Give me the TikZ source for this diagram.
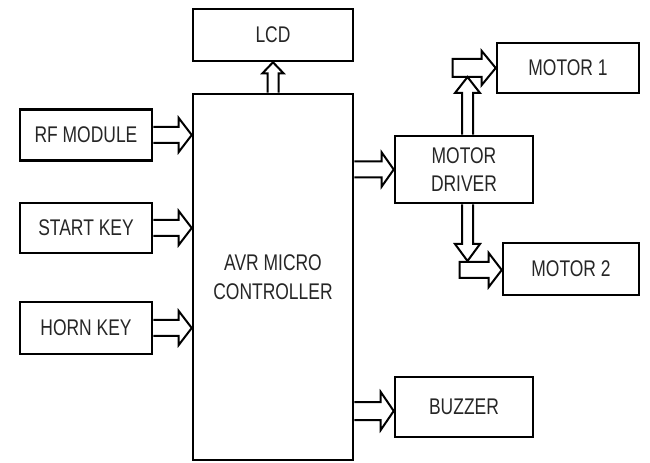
\documentclass[tikz,border=0pt]{standalone}
\usepackage{fontspec}
\setmainfont{Liberation Sans}[FakeStretch=0.77]
\usetikzlibrary{calc}
\newdimen\pxu \pxu=0.75pt
\tikzset{
  blk/.style={draw, line width=1.9pt, rectangle, inner sep=0pt, align=center,
    text=black!85, font=\fontsize{17pt}{21.5pt}\selectfont},
  harrow/.style={draw, line width=1.5pt, line join=miter},
}
% #1 start, #2 tip, #3 shaft half width, #4 head half width, #5 head length
\newcommand\hollowright[5]{%
  \draw[harrow] ($(#1)+(0,-#3)$) -- ($(#2)+(-#5,-#3)$) -- ($(#2)+(-#5,-#4)$) -- (#2)
    -- ($(#2)+(-#5,#4)$) -- ($(#2)+(-#5,#3)$) -- ($(#1)+(0,#3)$);}
\newcommand\hollowrightclosed[5]{%
  \draw[harrow] ($(#1)+(0,-#3)$) -- ($(#2)+(-#5,-#3)$) -- ($(#2)+(-#5,-#4)$) -- (#2)
    -- ($(#2)+(-#5,#4)$) -- ($(#2)+(-#5,#3)$) -- ($(#1)+(0,#3)$) -- cycle;}
\begin{document}
\begin{tikzpicture}[x=0.75pt,y=-0.75pt]
\useasboundingbox (0,0) rectangle (650,463);

% blocks
\node[blk, minimum width=160\pxu, minimum height=52\pxu] (lcd) at (273,35) {LCD};
\node[blk, minimum width=160\pxu, minimum height=366\pxu] (avr) at (273,277) {AVR MICRO\\CONTROLLER};
\node[blk, minimum width=132\pxu, minimum height=51\pxu] (rf) at (86,135) {RF MODULE};
\node[blk, minimum width=132\pxu, minimum height=50\pxu] (start) at (86,228) {START KEY};
\node[blk, minimum width=132\pxu, minimum height=52\pxu] (horn) at (86,328) {HORN KEY};
\node[blk, minimum width=138\pxu, minimum height=67\pxu] (driver) at (464,169.5) {MOTOR\\DRIVER};
\node[blk, minimum width=142\pxu, minimum height=50\pxu] (m1) at (568,68) {MOTOR 1};
\node[blk, minimum width=136\pxu, minimum height=52\pxu] (m2) at (571,269) {MOTOR 2};
\node[blk, minimum width=138\pxu, minimum height=60\pxu] (buzzer) at (464,407) {BUZZER};

% input arrows into the controller
\coordinate (t1) at (avr.west |- rf.east);
\coordinate (t2) at (avr.west |- start.east);
\coordinate (t3) at (avr.west |- horn.east);
\hollowright{rf.east}{t1}{8}{17}{13}
\hollowright{start.east}{t2}{8}{17}{13}
\hollowright{horn.east}{t3}{8}{17}{13}

% controller to LCD
\draw[harrow] ($(avr.north)+(-5.5,0)$) -- ($(lcd.south)+(-5.5,11)$) -- ($(lcd.south)+(-10.5,11)$)
  -- (lcd.south) -- ($(lcd.south)+(10.5,11)$) -- ($(lcd.south)+(5.5,11)$) -- ($(avr.north)+(5.5,0)$);

% controller to motor driver and buzzer
\coordinate (s4) at (avr.east |- driver.west);
\hollowright{s4}{driver.west}{8}{17}{12}
\coordinate (t5) at ($(buzzer.west)+(0,4)$);
\coordinate (s5) at (avr.east |- t5);
\hollowright{s5}{t5}{9}{19}{13}

% motor driver to motors
\coordinate (s6) at ($(m1.west)+(-43,0)$);
\hollowrightclosed{s6}{m1.west}{9}{17}{14}
\coordinate (s7) at ($(m2.west)+(-42,1)$);
\coordinate (t7) at ($(m2.west)+(0,1)$);
\hollowrightclosed{s7}{t7}{8}{17}{13}

\coordinate (u0) at ($(driver.north)+(3.5,0)$);
\coordinate (ut) at (u0 |- 0,77);
\draw[harrow] ($(u0)+(-5.5,0)$) -- ($(ut)+(-5.5,16)$) -- ($(ut)+(-12.5,16)$) -- (ut)
  -- ($(ut)+(12.5,16)$) -- ($(ut)+(5.5,16)$) -- ($(u0)+(5.5,0)$);
\coordinate (d0) at ($(driver.south)+(3.5,0)$);
\coordinate (dt) at (d0 |- 0,261);
\draw[harrow] ($(d0)+(-5.5,0)$) -- ($(dt)+(-5.5,-17)$) -- ($(dt)+(-12.5,-17)$) -- (dt)
  -- ($(dt)+(12.5,-17)$) -- ($(dt)+(5.5,-17)$) -- ($(d0)+(5.5,0)$);
\end{tikzpicture}
\end{document}
